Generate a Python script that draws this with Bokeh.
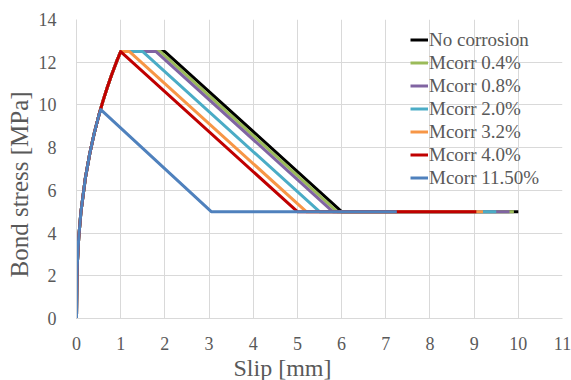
from bokeh.plotting import figure
from bokeh.models import Range1d, Legend, LegendItem, FixedTicker, Title
from bokeh.embed import file_html
from bokeh.resources import INLINE

# ---- data ----
rise_slip = [0, 0.01, 0.02, 0.05, 0.1, 0.2, 0.3, 0.4, 0.5]
rise_stress = [0, 1.97, 2.6, 3.77, 4.98, 6.57, 7.72, 8.66, 9.47]

peak_rise_slip = [0.6, 0.7, 0.8, 0.9, 1.0]
peak_rise_stress = [10.19, 10.84, 11.44, 11.99, 12.5]

series_names = ["No corrosion", "Mcorr 0.4%", "Mcorr 0.8%", "Mcorr 2.0%",
                "Mcorr 3.2%", "Mcorr 4.0%", "Mcorr 11.50%"]
series_colors = ["#000000", "#9BBB59", "#8064A2", "#4BACC6",
                 "#F79646", "#C00000", "#4F81BD"]

# post-peak branch of each series: (slip, stress)
tail_slip = [
    [2.0, 6.0, 10.0],
    [1.9, 5.9, 9.9],
    [1.8, 5.8, 9.8],
    [1.5, 5.5, 9.5],
    [1.2, 5.2, 9.2],
    [5.0, 9.05],
    [0.55, 3.05, 7.25],
]
tail_stress = [
    [12.5, 5.0, 5.0],
    [12.5, 5.0, 5.0],
    [12.5, 5.0, 5.0],
    [12.5, 5.0, 5.0],
    [12.5, 5.0, 5.0],
    [5.0, 5.0],
    [9.78, 5.0, 5.0],
]
uses_full_rise = [True, True, True, True, True, True, False]

x_ticks = list(range(0, 12))
y_ticks = list(range(0, 15, 2))

FONT = "Liberation Serif"
TXT = "#595959"
GRID = "#D9D9D9"

p = figure(width=571, height=380, output_backend="svg", toolbar_location=None,
           x_range=Range1d(0, 11), y_range=Range1d(0, 14),
           min_border_left=76, min_border_right=9, min_border_top=19,
           min_border_bottom=62)
p.outline_line_color = None
p.background_fill_color = "white"
p.border_fill_color = "white"

p.xaxis.ticker = FixedTicker(ticks=x_ticks)
p.yaxis.ticker = FixedTicker(ticks=y_ticks)
p.axis.major_tick_line_color = None
p.axis.minor_tick_line_color = None
p.axis.axis_line_color = GRID
p.axis.major_label_text_font = FONT
p.axis.major_label_text_font_size = "18px"
p.axis.major_label_text_color = TXT
p.yaxis.major_label_standoff = 14
p.xaxis.major_label_standoff = 12

p.xgrid.ticker = FixedTicker(ticks=x_ticks)
p.ygrid.ticker = FixedTicker(ticks=y_ticks)
p.xgrid.grid_line_color = GRID
p.ygrid.grid_line_color = GRID

items = []
for i in range(len(series_names)):
    if uses_full_rise[i]:
        xs = rise_slip + peak_rise_slip + tail_slip[i]
        ys = rise_stress + peak_rise_stress + tail_stress[i]
    else:
        xs = rise_slip + tail_slip[i]
        ys = rise_stress + tail_stress[i]
    r = p.line(xs, ys, line_color=series_colors[i], line_width=3,
               line_join="round")
    items.append(LegendItem(label=series_names[i], renderers=[r]))

legend = Legend(items=items, location=(334, 129))
legend.border_line_color = None
legend.background_fill_alpha = 0
legend.padding = 0
legend.margin = 0
legend.spacing = 0
legend.glyph_width = 18
legend.glyph_height = 23
legend.label_height = 23
legend.label_standoff = 1
legend.label_text_font = FONT
legend.label_text_font_size = "19px"
legend.label_text_color = TXT
p.add_layout(legend, "center")

p.add_layout(Title(text="Slip [mm]", align="left", offset=157, standoff=0,
                   text_font=FONT, text_font_size="24px",
                   text_font_style="normal", text_color=TXT), "below")
p.add_layout(Title(text="Bond stress [MPa]", align="left", offset=41,
                   standoff=5, text_font=FONT, text_font_size="25px",
                   text_font_style="normal", text_color=TXT), "left")

open("out.html", "w").write(file_html(p, INLINE))
